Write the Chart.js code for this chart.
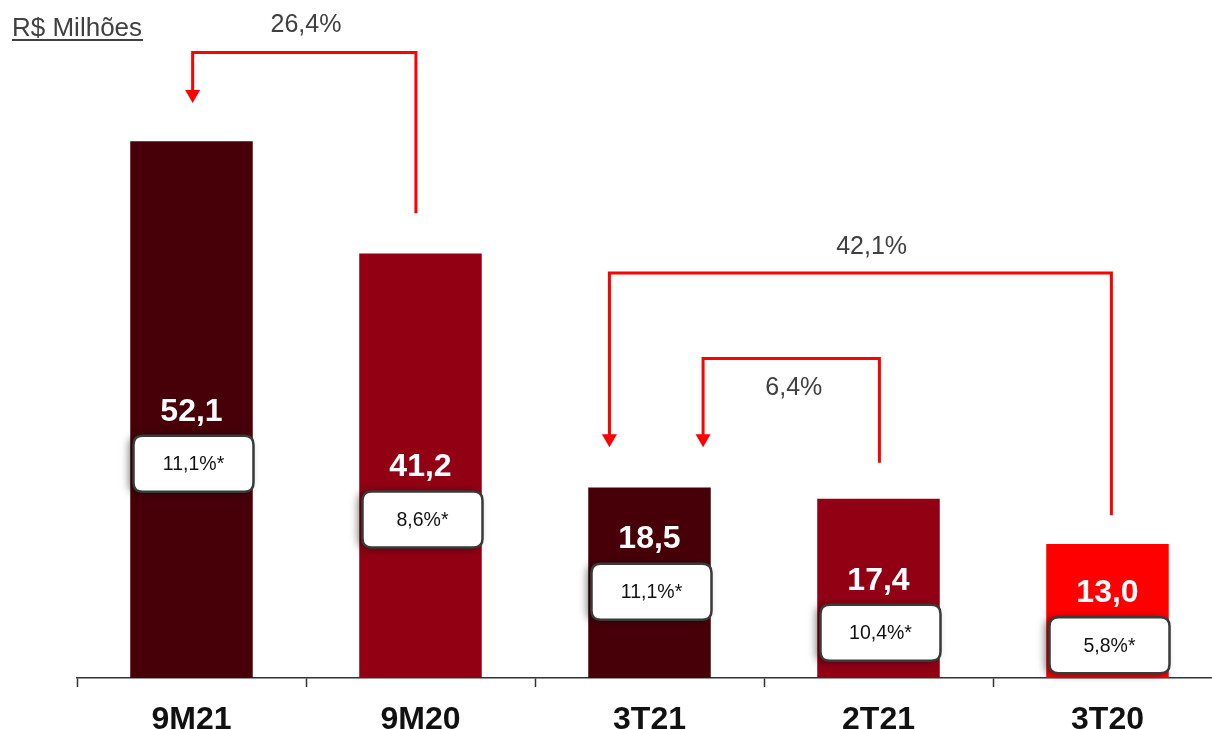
<!DOCTYPE html>
<html lang="pt">
<head>
  <meta charset="UTF-8" />
  <title>R$ Milhões</title>
  <script src="https://cdn.jsdelivr.net/npm/chart.js"></script>
  <style>
    html, body {
      margin: 0;
      background: #ffffff;
      overflow: hidden;
    }
    #wrap {
      position: relative;
      width: 1222px;
      height: 729px;
    }
  </style>
</head>
<body>
  <div id="wrap">
    <canvas id="chart"></canvas>
  </div>

  <script>
    const categories = ['9M21', '9M20', '3T21', '2T21', '3T20'];
    const values = [52.1, 41.2, 18.5, 17.4, 13.0];
    const margins = ['11,1%*', '8,6%*', '11,1%*', '10,4%*', '5,8%*'];
    const barColors = ['#470008', '#920014', '#470008', '#920014', '#ff0000'];

    // growth brackets: from = bar without arrow, to = bar the arrow points at
    const growthLabels = ['26,4%', '42,1%', '6,4%'];
    const growthFrom = [1, 4, 3];
    const growthTo = [0, 2, 2];

    // layout of the annotations (value units / fractions of a category)
    const boxLevels = [23.5, 18.1, 11.1, 7.1, 5.9];
    const bracketLayout = [
      { fromOff: -0.02, toOff: 0.005, top: 60.7, start: 45.1, tip: 55.8, textX: 0.50, textY: 63.4 },
      { fromOff: 0.017, toOff: -0.175, top: 39.3, start: 15.8, tip: 22.4, textX: 2.97, textY: 41.8 },
      { fromOff: 0.004, toOff: 0.234, top: 31.0, start: 20.9, tip: 22.4, textX: 2.63, textY: 28.1 }
    ];

    const FONT = "'Liberation Sans', Arial, sans-serif";
    const RED = '#ff0000';
    const GREY = '#404040';

    function roundRect(ctx, x, y, w, h, r) {
      ctx.beginPath();
      ctx.moveTo(x + r, y);
      ctx.lineTo(x + w - r, y);
      ctx.quadraticCurveTo(x + w, y, x + w, y + r);
      ctx.lineTo(x + w, y + h - r);
      ctx.quadraticCurveTo(x + w, y + h, x + w - r, y + h);
      ctx.lineTo(x + r, y + h);
      ctx.quadraticCurveTo(x, y + h, x, y + h - r);
      ctx.lineTo(x, y + r);
      ctx.quadraticCurveTo(x, y, x + r, y);
      ctx.closePath();
    }

    const annotations = {
      id: 'annotations',
      afterDatasetsDraw(chart) {
        const ctx = chart.ctx;
        const xs = chart.scales.x;
        const ys = chart.scales.y;
        ctx.save();

        // unit label
        ctx.fillStyle = GREY;
        ctx.font = '26px ' + FONT;
        ctx.textAlign = 'left';
        ctx.textBaseline = 'alphabetic';
        ctx.fillText('R$ Milhões', 12, 36);
        const w = ctx.measureText('R$ Milhões').width;
        ctx.fillRect(12, 39, w + 1, 2);

        // value labels and margin boxes
        values.forEach((v, i) => {
          const cx = xs.getPixelForValue(i) + 2;
          const top = ys.getPixelForValue(boxLevels[i]);
          ctx.fillStyle = '#ffffff';
          ctx.font = 'bold 32px ' + FONT;
          ctx.textAlign = 'center';
          ctx.textBaseline = 'middle';
          ctx.fillText(v.toFixed(1).replace('.', ','), cx - 2, top - 24);

          ctx.save();
          ctx.shadowColor = 'rgba(0,0,0,0.55)';
          ctx.shadowBlur = 9;
          ctx.shadowOffsetX = -4;
          ctx.shadowOffsetY = 1;
          roundRect(ctx, cx - 60, top, 120, 56, 9);
          ctx.fillStyle = '#ffffff';
          ctx.fill();
          ctx.restore();
          roundRect(ctx, cx - 60, top, 120, 56, 9);
          ctx.lineWidth = 2.5;
          ctx.strokeStyle = '#3a3a3a';
          ctx.stroke();

          ctx.fillStyle = '#111111';
          ctx.font = '19.5px ' + FONT;
          ctx.fillText(margins[i], cx, top + 29);
        });

        // growth brackets
        growthLabels.forEach((label, k) => {
          const b = bracketLayout[k];
          const x1 = xs.getPixelForValue(growthFrom[k] + b.fromOff);
          const x2 = xs.getPixelForValue(growthTo[k] + b.toOff);
          const yTop = ys.getPixelForValue(b.top);
          const yStart = ys.getPixelForValue(b.start);
          const yTip = ys.getPixelForValue(b.tip);
          ctx.strokeStyle = RED;
          ctx.lineWidth = 3;
          ctx.lineJoin = 'miter';
          ctx.beginPath();
          ctx.moveTo(x1, yStart);
          ctx.lineTo(x1, yTop);
          ctx.lineTo(x2, yTop);
          ctx.lineTo(x2, yTip - 12);
          ctx.stroke();
          ctx.fillStyle = RED;
          ctx.beginPath();
          ctx.moveTo(x2 - 7.5, yTip - 13);
          ctx.lineTo(x2 + 7.5, yTip - 13);
          ctx.lineTo(x2, yTip);
          ctx.closePath();
          ctx.fill();

          ctx.fillStyle = GREY;
          ctx.font = '25px ' + FONT;
          ctx.textAlign = 'center';
          ctx.textBaseline = 'middle';
          ctx.fillText(label, xs.getPixelForValue(b.textX), ys.getPixelForValue(b.textY));
        });

        ctx.restore();
      }
    };

    new Chart(document.getElementById('chart'), {
      type: 'bar',
      data: {
        labels: categories,
        datasets: [{
          data: values,
          backgroundColor: barColors,
          borderWidth: 0,
          categoryPercentage: 1,
          barPercentage: 0.535
        }]
      },
      options: {
        responsive: true,
        maintainAspectRatio: false,
        animation: false,
        layout: { padding: { left: 77, right: 0, top: 0, bottom: 0 } },
        plugins: {
          legend: { display: false },
          tooltip: { enabled: false }
        },
        scales: {
          y: {
            display: false,
            min: 0,
            max: 65.8
          },
          x: {
            afterFit(scale) { scale.height = 51; },
            border: { display: true, color: '#333333', width: 1.5 },
            grid: {
              drawOnChartArea: false,
              drawTicks: true,
              tickLength: 9,
              tickWidth: 1.5,
              tickColor: '#333333',
              offset: true
            },
            ticks: {
              color: '#111111',
              padding: 14,
              font: { family: FONT, size: 32, weight: 'bold' }
            }
          }
        }
      },
      plugins: [annotations]
    });
  </script>
</body>
</html>
